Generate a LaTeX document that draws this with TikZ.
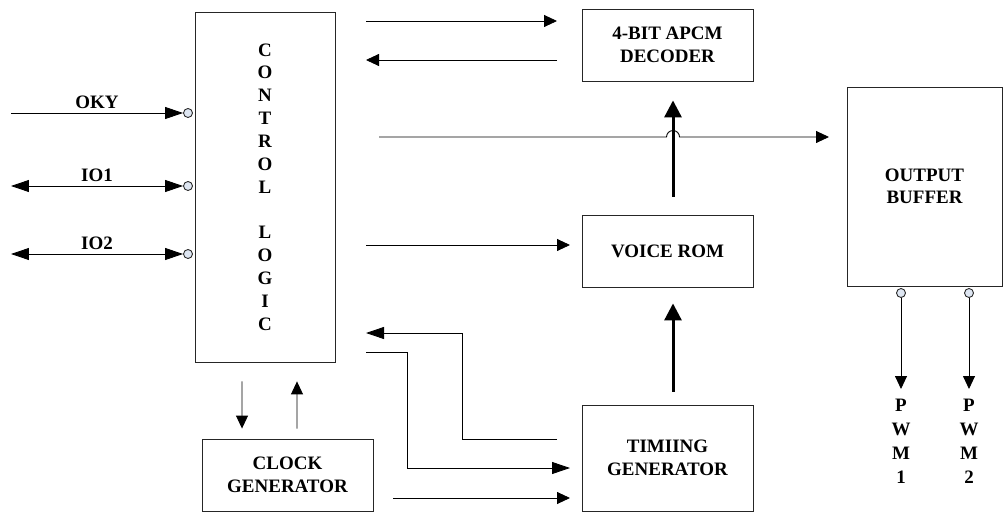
\documentclass[tikz,border=0pt]{standalone}
\usepackage{fontspec}
\setmainfont{Liberation Serif}
\usetikzlibrary{arrows.meta}
\definecolor{pinfill}{RGB}{222,230,242}

\begin{document}
\begin{tikzpicture}[x=0.02cm, y=-0.02cm, line width=0.5pt, draw=black,
    >={Triangle[length=0.26cm, width=0.24cm]},
    every node/.style={font=\bfseries\fontsize{10.8}{12.75}\selectfont},
    blk/.style={draw=black!85, minimum width=3.42cm, minimum height=1.44cm, align=center, inner sep=0pt},
    pin/.style={circle, draw=black!85, fill=pinfill, minimum size=0.18cm, inner sep=0pt},
    longtip/.style={>={Triangle[length=0.36cm, width=0.24cm]}},
    bigarrow/.style={line width=1.7pt, draw=black, >={Triangle[length=0.34cm, width=0.34cm]}}]
    \useasboundingbox (0,0) rectangle (1004,513);

    % Nodes
    \node[blk, minimum width=2.8cm, minimum height=7cm, font=\bfseries\fontsize{10.8}{13}\selectfont] (ctrl) at (265,187)
        {C\\O\\N\\T\\R\\O\\L\\\mbox{}\\L\\O\\G\\I\\C};
    \node[blk] (dec) at (667.5,45) {4-BIT APCM\\DECODER};
    \node[blk] (rom) at (667.5,251) {VOICE ROM};
    \node[blk, minimum height=2.12cm] (tim) at (667.5,458) {TIMIING\\GENERATOR};
    \node[blk] (clk) at (287.5,475) {CLOCK\\GENERATOR};
    \node[blk, minimum width=3.1cm, minimum height=3.98cm] (buf) at (924.5,186.5) {OUTPUT\\BUFFER};

    % Pins
    \node[pin] (p1) at (188,113) {};
    \node[pin] (p2) at (188,186) {};
    \node[pin] (p3) at (188,254) {};
    \node[pin] (q1) at (901,293) {};
    \node[pin] (q2) at (969,293) {};

    % Free ends
    \coordinate (oky) at (11,113);
    \coordinate (io1) at (11,186);
    \coordinate (io2) at (11,254);
    \coordinate (t1) at (366,21);
    \coordinate (t2) at (557,21);
    \coordinate (t3) at (557,60);
    \coordinate (t4) at (366,60);
    \coordinate (h1) at (379,137);
    \coordinate (hop) at (673,137);
    \coordinate (h2) at (829,137);
    \coordinate (r1) at (366,245);
    \coordinate (r2) at (570,245);
    \coordinate (f1) at (557,439);
    \coordinate (f2) at (366,333);
    \coordinate (g1) at (366,352);
    \coordinate (g2) at (570,468);
    \coordinate (k1) at (393,498);
    \coordinate (k2) at (570,498);
    \coordinate (pwm1) at (901,389);
    \coordinate (pwm2) at (969,389);

    % Input pins
    \draw[longtip, ->] (oky) -- (p1) node[midway, above, inner sep=2pt] {OKY};
    \draw[longtip, <->] (io1) -- (p2) node[midway, above, inner sep=2pt] {IO1};
    \draw[longtip, <->] (io2) -- (p3) node[midway, above, inner sep=2pt] {IO2};

    % Control logic links
    \draw[->] (t1) -- (t2);
    \draw[->] (t3) -- (t4);
    \draw[->] (h1) -- ([xshift=-0.13cm]hop) arc[start angle=180, end angle=0, radius=0.13cm] -- (h2);
    \draw[->] (r1) -- (r2);
    \draw[longtip, ->] (f1) -- ++(-95,0) |- (f2);
    \draw[longtip, ->] (g1) -- ++(41,0) |- (g2);
    \draw[->] (k1) -- (k2);
    \draw[->, shorten <=0.38cm, shorten >=0.2cm] ([xshift=-0.46cm]ctrl.south) -- ([xshift=-0.91cm]clk.north);
    \draw[->, shorten <=0.2cm, shorten >=0.38cm] ([xshift=0.19cm]clk.north) -- ([xshift=0.64cm]ctrl.south);

    % Data path
    \draw[bigarrow, ->, shorten <=0.36cm, shorten >=0.38cm] ([xshift=0.11cm]rom.north) -- ([xshift=0.11cm]dec.south);
    \draw[bigarrow, ->, shorten <=0.26cm, shorten >=0.32cm] ([xshift=0.11cm]tim.north) -- ([xshift=0.11cm]rom.south);

    % Outputs
    \draw[->] (q1) -- (pwm1);
    \draw[->] (q2) -- (pwm2);
    \node[align=center, font=\bfseries\fontsize{10.8}{13.6}\selectfont] (pwm1lbl) at (901,441) {P\\W\\M\\1};
    \node[align=center, font=\bfseries\fontsize{10.8}{13.6}\selectfont] (pwm2lbl) at (969,441) {P\\W\\M\\2};
\end{tikzpicture}
\end{document}
